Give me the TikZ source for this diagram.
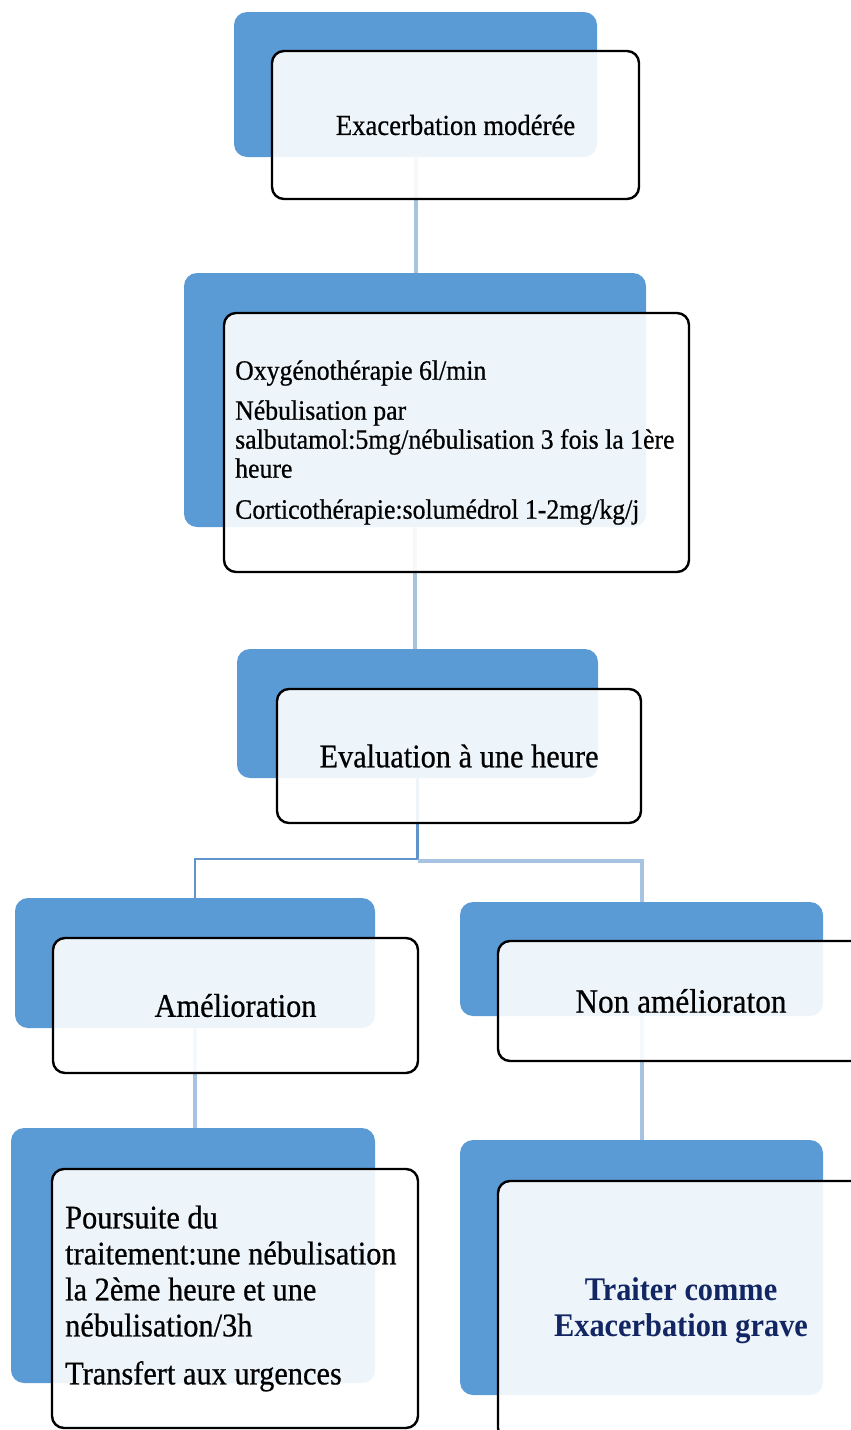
\documentclass[tikz,border=0pt]{standalone}
\usepackage{fontspec}
\setmainfont{Liberation Serif}[FakeStretch=0.92, UprightFeatures={FakeBold=0.6}]
\definecolor{accent}{RGB}{91,155,213}
\definecolor{linkdark}{RGB}{98,148,204}
\definecolor{linklight}{RGB}{166,196,225}
\definecolor{navy}{RGB}{18,38,100}
\begin{document}
\begin{tikzpicture}[x=1pt,y=-1pt,
  backcard/.style={rectangle, rounded corners=13pt, fill=accent, inner sep=0pt, outer sep=0pt},
  frontcard/.style={rectangle, rounded corners=12pt, draw=black, line width=2.4pt,
    fill=white, fill opacity=0.9, text opacity=1, inner sep=0pt, outer sep=0pt, align=center},
  lightlink/.style={draw=linklight, line width=4pt},
  darklink/.style={draw=linkdark, line width=2.6pt},
  bodytext/.style={inner sep=0pt, align=left},
  ]
\useasboundingbox (0,0) rectangle (851,1430);
\clip (0,0) rectangle (851,1430);

% coloured back cards (placed first so the connectors can refer to them)
\node[backcard, minimum width=363pt, minimum height=145pt] (b1) at (415.5,84.5) {};
\node[backcard, minimum width=462pt, minimum height=254pt] (b2) at (415,400) {};
\node[backcard, minimum width=361pt, minimum height=129pt] (b3) at (417.5,713.5) {};
\node[backcard, minimum width=360pt, minimum height=130pt] (b4L) at (195,963) {};
\node[backcard, minimum width=363pt, minimum height=114pt] (b4R) at (641.5,959) {};
\node[backcard, minimum width=364pt, minimum height=255pt] (b5L) at (193,1255.5) {};
\node[backcard, minimum width=363pt, minimum height=255pt] (b5R) at (641.5,1267.5) {};

% connectors between the back cards
\path (b3.south) ++(0,81) coordinate (fork);
\draw[lightlink] (b1.south) -- (b1.south |- b2.north);
\draw[lightlink] (b2.south) -- (b2.south |- b3.north);
\draw[darklink] (b3.south) -- (fork) -| (b4L.north);
\draw[lightlink] ([yshift=-2pt]fork) -| (b4R.north);
\draw[lightlink] (b4L.south) -- (b4L.south |- b5L.north);
\draw[lightlink] (b4R.south) -- (b4R.south |- b5R.north);

% framed text cards
\node[frontcard, minimum width=367pt, minimum height=148pt,
  font=\fontsize{29pt}{34pt}\selectfont] (w1) at (455.5,125) {Exacerbation modérée};
\node[frontcard, minimum width=465pt, minimum height=259pt] (w2) at (456.5,442.5) {};
\node[frontcard, minimum width=364pt, minimum height=134pt,
  font=\fontsize{33pt}{36pt}\selectfont] (w3) at (459,756) {Evaluation à une heure};
\node[frontcard, minimum width=365pt, minimum height=135pt,
  font=\fontsize{33pt}{36pt}\selectfont] (w4L) at (235.5,1005.5) {Amélioration};
\node[frontcard, minimum width=366pt, minimum height=120pt,
  font=\fontsize{34pt}{36pt}\selectfont] (w4R) at (681,1001) {Non amélioraton};
\node[frontcard, minimum width=366pt, minimum height=259pt] (w5L) at (235,1298.5) {};
\node[frontcard, minimum width=366pt, minimum height=259pt,
  font=\fontsize{33pt}{36pt}\selectfont\bfseries, text=navy] (w5R) at (681,1310.5)
  {Traiter comme\\Exacerbation grave};

% left-aligned card texts
\node[bodytext, anchor=west, font=\fontsize{28pt}{29pt}\selectfont] (t2) at ([xshift=11pt]w2.west)
  {Oxygénothérapie 6l/min\\[11pt]
   Nébulisation par\\
   salbutamol:5mg/nébulisation 3 fois la 1ère\\
   heure\\[12pt]
   Corticothérapie:solumédrol 1-2mg/kg/j};
\node[bodytext, anchor=west, font=\fontsize{33pt}{36pt}\selectfont] (t5L) at ([xshift=13pt]w5L.west)
  {Poursuite du\\
   traitement:une nébulisation\\
   la 2ème heure et une\\
   nébulisation/3h\\[12pt]
   Transfert aux urgences};
\end{tikzpicture}
\end{document}
